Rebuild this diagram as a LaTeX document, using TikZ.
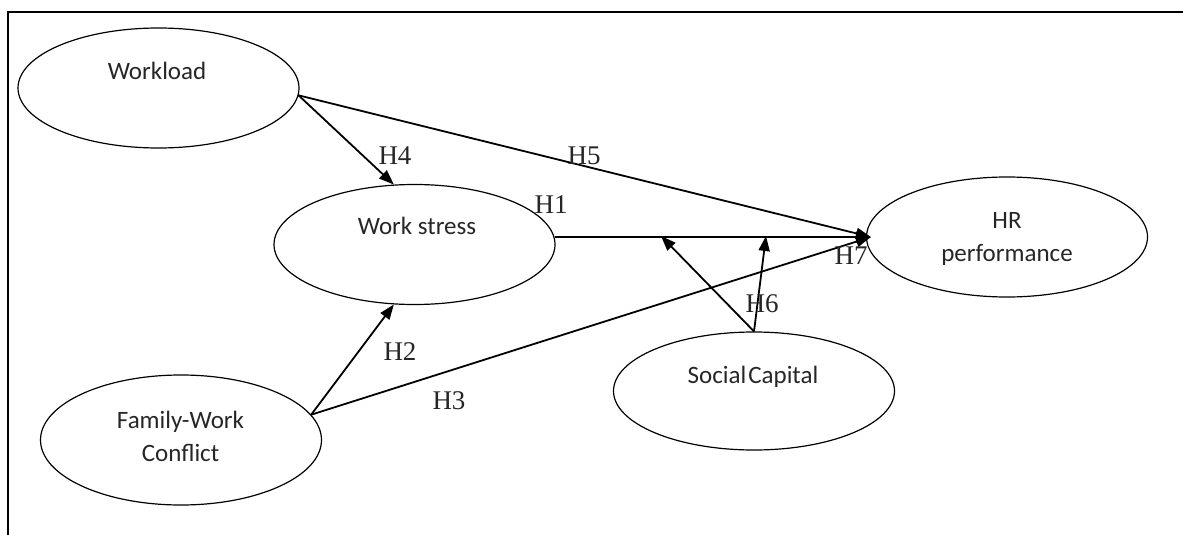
\documentclass[tikz,border=0pt]{standalone}
\usepackage{fontspec}
\setmainfont{Liberation Serif}
\newfontfamily\calib{Carlito}
\usetikzlibrary{shapes.geometric,arrows.meta}
\begin{document}
\begin{tikzpicture}[x=1pt,y=-1pt,
  construct/.style={draw, ellipse, line width=1.2pt, minimum width=281pt, minimum height=120pt, inner sep=0pt},
  lbl/.style={font=\calib\fontsize{25}{30}\selectfont, anchor=base, inner sep=0pt, text=black!85},
  hyp/.style={font=\fontsize{27}{32}\selectfont, inner sep=0pt, text=black!85},
  link/.style={line width=1.8pt, -{Triangle[length=15pt,width=11pt]}}
]
\useasboundingbox (0,0) rectangle (1183,535);
\draw[line width=1.4pt] (8,535) -- (8,12) -- (1183,12);

\node[construct] (wl) at (158.5,88) {};
\node[construct] (ws) at (414.5,244.5) {};
\node[construct] (hr) at (1007,237) {};
\node[construct, minimum height=118pt] (sc) at (754,391) {};
\node[construct, minimum height=130pt] (fw) at (181,440) {};

\node[lbl] (wlt) at (157,79) {Workload};
\node[lbl] (wst) at (417,234) {Work stress};
\node[lbl] (hrt1) at (1007,228) {HR};
\node[lbl] (hrt2) at (1007,261) {performance};
\node[lbl] (sct) at (753,383) {Social\hspace{2pt}Capital};
\node[lbl] (fwt1) at (180.5,428) {Family-Work};
\node[lbl] (fwt2) at (180.5,461) {Conflict};

\coordinate (hrin) at ([xshift=5pt]hr.west);
\coordinate (m1) at (661,236);
\coordinate (m2) at (766,236);

\draw[link] (wl.-3) -- (ws.109);
\draw[link] (wl.-3) -- (hrin);
\draw[link] (ws.3) -- (ws.3 -| hrin);
\draw[link] (fw.11) -- (ws.251);
\draw[link] (fw.11) -- (hrin);
\draw[link] (sc.north) -- (m1);
\draw[link] (sc.north) -- (m2);

\node[hyp] (h1) at (551,205) {H1};
\node[hyp] (h2) at (400,352) {H2};
\node[hyp] (h3) at (449,401) {H3};
\node[hyp] (h4) at (395,156) {H4};
\node[hyp] (h5) at (584,156) {H5};
\node[hyp] (h6) at (762,304) {H6};
\node[hyp] (h7) at (851,256) {H7};
\end{tikzpicture}
\end{document}
